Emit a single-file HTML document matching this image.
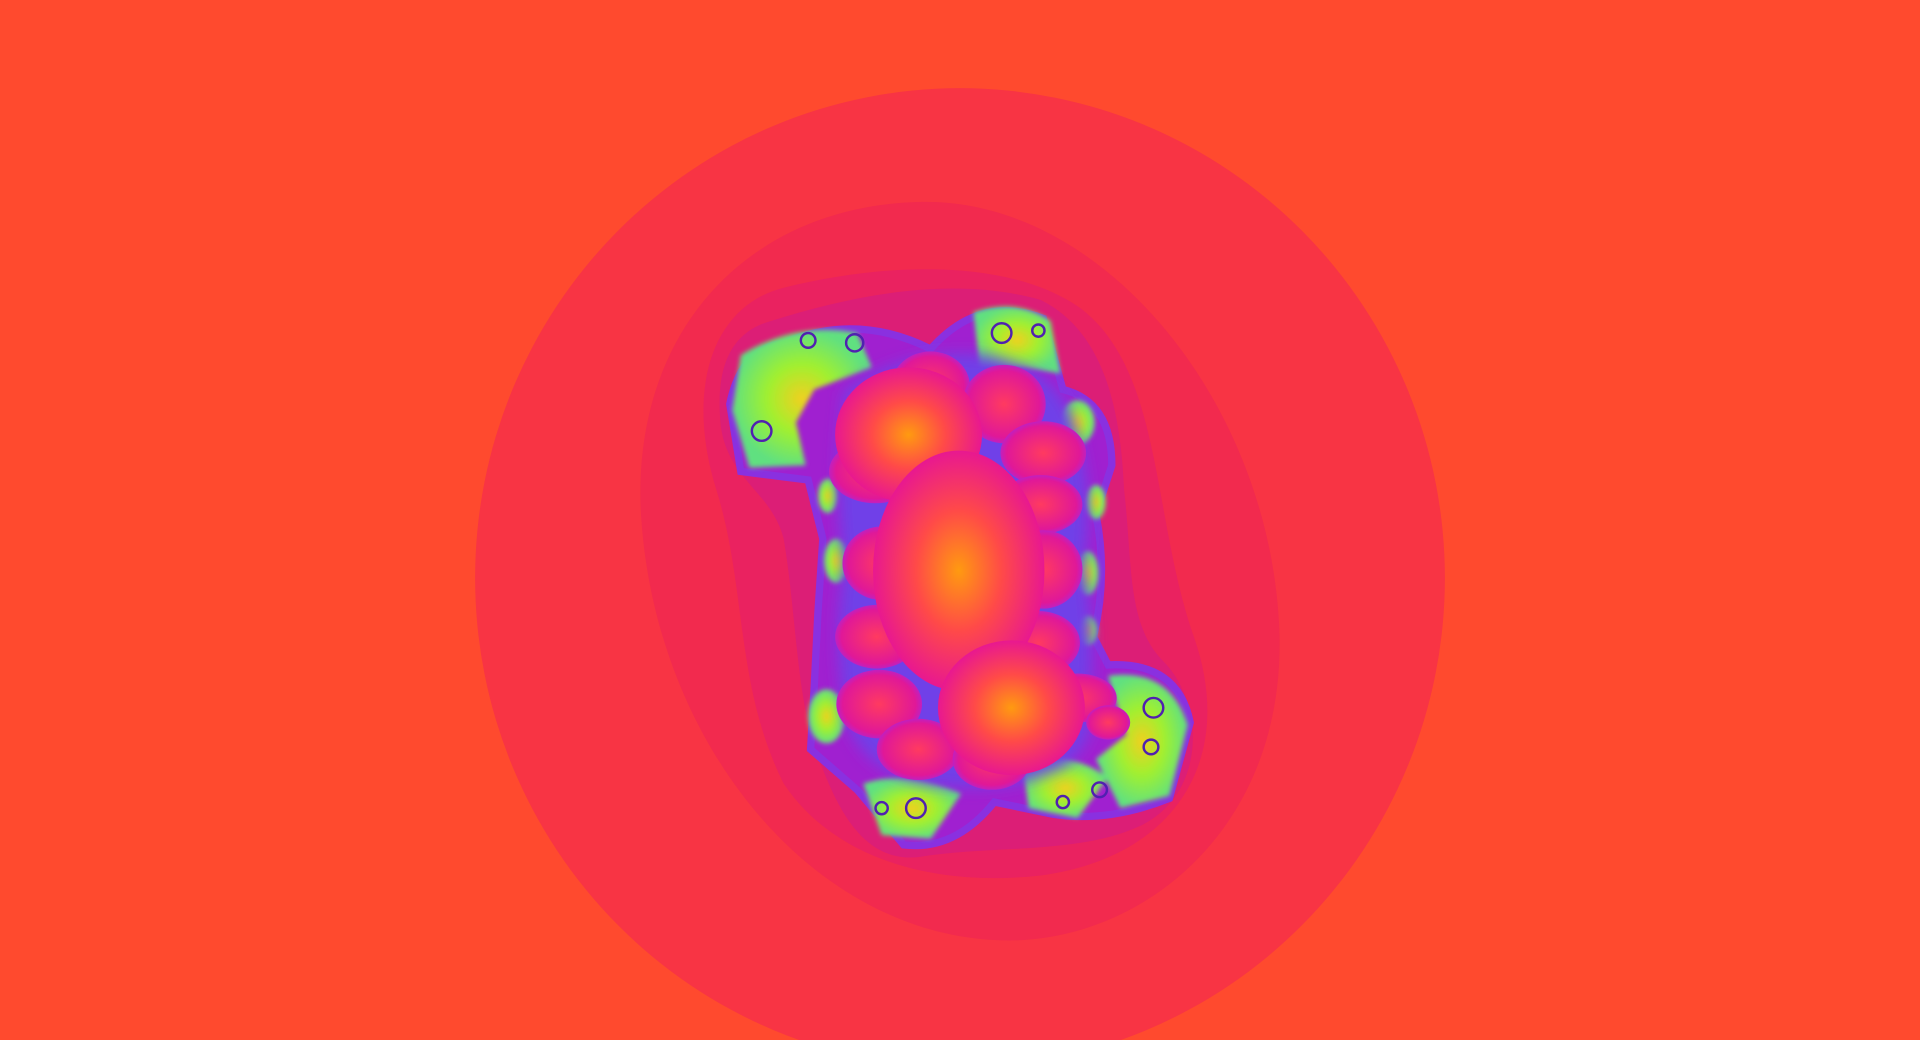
<!DOCTYPE html>
<html><head><meta charset="utf-8"><style>
html,body{margin:0;padding:0;background:#FF4A2E;overflow:hidden}
svg{display:block}
</style></head><body>
<svg width="1920" height="1040" viewBox="0 0 1920 1040" xmlns="http://www.w3.org/2000/svg">
<defs>
<radialGradient id="bulb" cx="50%" cy="50%" r="50%">
<stop offset="0" stop-color="#FF9A10"/><stop offset="0.5" stop-color="#FF4A48"/><stop offset="1" stop-color="#E81890"/>
</radialGradient>
<radialGradient id="petal" cx="50%" cy="50%" r="50%">
<stop offset="0" stop-color="#FF3A60"/><stop offset="0.85" stop-color="#E01898"/><stop offset="1" stop-color="#C020C0"/>
</radialGradient>
<radialGradient id="lace" cx="50%" cy="50%" r="50%">
<stop offset="0" stop-color="#F0D020"/><stop offset="0.5" stop-color="#A0F030"/><stop offset="1" stop-color="#60E080"/>
</radialGradient>
<filter id="b2"><feGaussianBlur stdDeviation="2"/></filter>
<filter id="b6"><feGaussianBlur stdDeviation="6"/></filter>
</defs>
<rect width="1920" height="1040" fill="#FF4A2E"/>
<g transform="scale(1.22449)">
<ellipse cx="784" cy="472" rx="396" ry="400" fill="#F83444"/>
<path d="M750,165 C900,160 1040,330 1045,520 C1048,680 930,770 820,768 C660,765 530,600 523,410 C520,260 620,168 750,165 Z" fill="#F22A4E"/>
<path d="M640,235 C720,215 820,210 880,250 C950,300 940,420 975,520 C1010,620 960,700 850,715 C760,725 680,700 640,640 C600,560 610,480 585,400 C560,320 580,250 640,235 Z" fill="#EA2260"/>
<path d="M630,262 C700,240 780,225 850,245 C900,270 915,330 918,400 C925,460 920,510 950,540 C985,575 985,650 930,675 C880,698 810,690 750,700 C700,705 680,650 665,610 C650,560 650,500 640,440 C630,400 590,390 588,340 C585,295 600,270 630,262 Z" fill="#DC1E76"/>
<path d="M640,280 Q700,255 760,285 Q800,240 852,260 L868,318 Q908,328 908,380 L895,420 Q905,470 893,520 L905,543 Q962,540 972,590 L955,652 Q905,672 860,665 L812,655 Q780,695 738,690 L700,645 L662,612 L665,560 L668,500 L672,440 L660,392 L605,385 L596,330 Q605,285 640,280 Z" fill="#A020D0" stroke="#8A30E0" stroke-width="6"/>
<g filter="url(#b2)">
<path d="M605,290 Q650,262 700,272 L712,300 L665,318 L650,345 L658,380 L612,382 L598,335 Z" fill="url(#lace)"/>
<path d="M795,255 Q830,243 858,262 L866,305 L835,300 L800,300 Z" fill="url(#lace)"/>
<path d="M905,552 Q955,545 970,592 L955,650 L915,660 L895,620 L920,600 Z" fill="url(#lace)"/>
<path d="M705,640 Q740,628 785,648 L760,685 L720,682 Z" fill="url(#lace)"/>
<path d="M835,625 Q870,610 905,635 L880,668 L840,660 Z" fill="url(#lace)"/>
<ellipse cx="675" cy="585" rx="15" ry="22" fill="url(#lace)"/>
<ellipse cx="683" cy="458" rx="10" ry="18" fill="url(#lace)"/>
<ellipse cx="676" cy="405" rx="8" ry="14" fill="url(#lace)"/>
<ellipse cx="888" cy="468" rx="9" ry="18" fill="url(#lace)"/>
<ellipse cx="895" cy="410" rx="8" ry="14" fill="url(#lace)"/>
<ellipse cx="888" cy="515" rx="8" ry="12" fill="url(#lace)"/>
<ellipse cx="880" cy="345" rx="14" ry="18" fill="url(#lace)"/>
</g>
<g fill="none" stroke="#5020B0" stroke-width="2">
<circle cx="622" cy="352" r="8"/><circle cx="660" cy="278" r="6"/><circle cx="698" cy="280" r="7"/>
<circle cx="818" cy="272" r="8"/><circle cx="848" cy="270" r="5"/><circle cx="942" cy="578" r="8"/>
<circle cx="940" cy="610" r="6"/><circle cx="748" cy="660" r="8"/><circle cx="898" cy="645" r="6"/>
<circle cx="868" cy="655" r="5"/><circle cx="720" cy="660" r="5"/>
</g>
<path d="M690,320 Q740,285 800,290 Q860,300 875,340 Q895,400 885,460 Q895,520 890,560 Q900,600 870,625 Q820,650 760,640 Q700,630 690,580 Q680,520 690,460 Q680,400 690,320 Z" fill="#7040E8" filter="url(#b6)"/>
<g>
<ellipse cx="715" cy="385" rx="38" ry="26" fill="url(#petal)"/>
<ellipse cx="760" cy="315" rx="32" ry="28" fill="url(#petal)"/>
<ellipse cx="820" cy="330" rx="34" ry="32" fill="url(#petal)"/>
<ellipse cx="852" cy="370" rx="35" ry="26" fill="url(#petal)"/>
<ellipse cx="850" cy="412" rx="34" ry="24" fill="url(#petal)"/>
<ellipse cx="720" cy="460" rx="32" ry="30" fill="url(#petal)"/>
<ellipse cx="852" cy="465" rx="32" ry="32" fill="url(#petal)"/>
<ellipse cx="716" cy="520" rx="34" ry="26" fill="url(#petal)"/>
<ellipse cx="848" cy="525" rx="34" ry="26" fill="url(#petal)"/>
<ellipse cx="718" cy="575" rx="35" ry="28" fill="url(#petal)"/>
<ellipse cx="880" cy="570" rx="32" ry="20" fill="url(#petal)"/>
<ellipse cx="750" cy="612" rx="34" ry="25" fill="url(#petal)"/>
<ellipse cx="810" cy="620" rx="32" ry="25" fill="url(#petal)"/>
<ellipse cx="905" cy="590" rx="18" ry="14" fill="url(#petal)"/>
<ellipse cx="742" cy="355" rx="60" ry="55" fill="url(#bulb)"/>
<ellipse cx="783" cy="466" rx="70" ry="98" fill="url(#bulb)"/>
<ellipse cx="826" cy="578" rx="60" ry="55" fill="url(#bulb)"/>
</g>
</g>
</svg>
</body></html>
